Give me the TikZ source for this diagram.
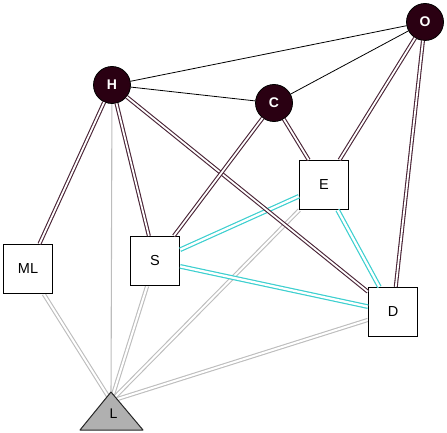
\documentclass[tikz,border=0pt]{standalone}
\usepackage{fontspec}
\setmainfont{Liberation Sans}
\usepackage{tikz}
\usetikzlibrary{backgrounds}

\definecolor{hubfill}{HTML}{2A0012}
\definecolor{linkred}{HTML}{4A2436}
\definecolor{aqualine}{HTML}{3CCFCF}
\definecolor{leadgray}{HTML}{BDBDBD}
\definecolor{trifill}{HTML}{B0B0B0}

\begin{document}
\begin{tikzpicture}[x=1pt,y=-1pt,
	hub/.style={shape=circle,draw=black,line width=0.8,fill=hubfill,text=white,font=\fontsize{14}{16}\selectfont\bfseries,minimum size=37,inner sep=0},
	box/.style={shape=rectangle,draw=black,line width=1.2,fill=white,minimum size=49,inner sep=0,font=\fontsize{14.5}{17}\selectfont},
	tri/.style={draw=black!85,line width=1,line join=round,fill=trifill},
	tie/.style={draw=black,line width=0.8},
	link/.style={draw=linkred,double=white,double distance=1.8,line width=1.1},
	aqua/.style={draw=aqualine,double=white,double distance=2.3,line width=1.2},
	lead/.style={draw=leadgray,double=white,double distance=2,line width=1.1}]
				\useasboundingbox (0,0) rectangle (447,433);

				\node[hub] (O) at (425,22) {O};
				\node[hub] (H) at (112,85) {H};
				\node[hub] (C) at (274,103) {C};
				\node[box] (E) at (324,185) {E};
				\node[box] (ML) at (28,269) {ML};
				\node[box] (S) at (155,261) {S};
				\node[box] (D) at (393,312) {D};

				% the triangle L, lines run in under it
				\draw[tri] (80,430) -- (143,430) -- (111,392) -- cycle;
				\node[font=\fontsize{14}{16}\selectfont] (L) at (113.5,414) {L};
				\coordinate (Lin) at (111,401);

				\begin{pgfonlayer}{background}
				\draw[lead] (ML) -- (Lin);
				\draw[draw=leadgray,line width=1.1] (H) -- (Lin);
				\draw[lead] (S) -- (Lin);
				\draw[lead] (E) -- (Lin);
				\draw[lead] (D) -- (Lin);
				\end{pgfonlayer}

				\draw[aqua] (S) -- (E);
				\draw[aqua] (S) -- (D);
				\draw[aqua] (E) -- (D);

				\draw[link] (H) -- (ML);
				\draw[link] (H) -- (S);
				\draw[link] (H) -- (D);
				\draw[link] (C) -- (S);
				\draw[link] (C) -- (E);
				\draw[link] (O) -- (E);
				\draw[link] (O) -- (D);

				\draw[tie] (H) -- (O);
				\draw[tie] (H) -- (C);
				\draw[tie] (C) -- (O);
			\end{tikzpicture}
\end{document}
